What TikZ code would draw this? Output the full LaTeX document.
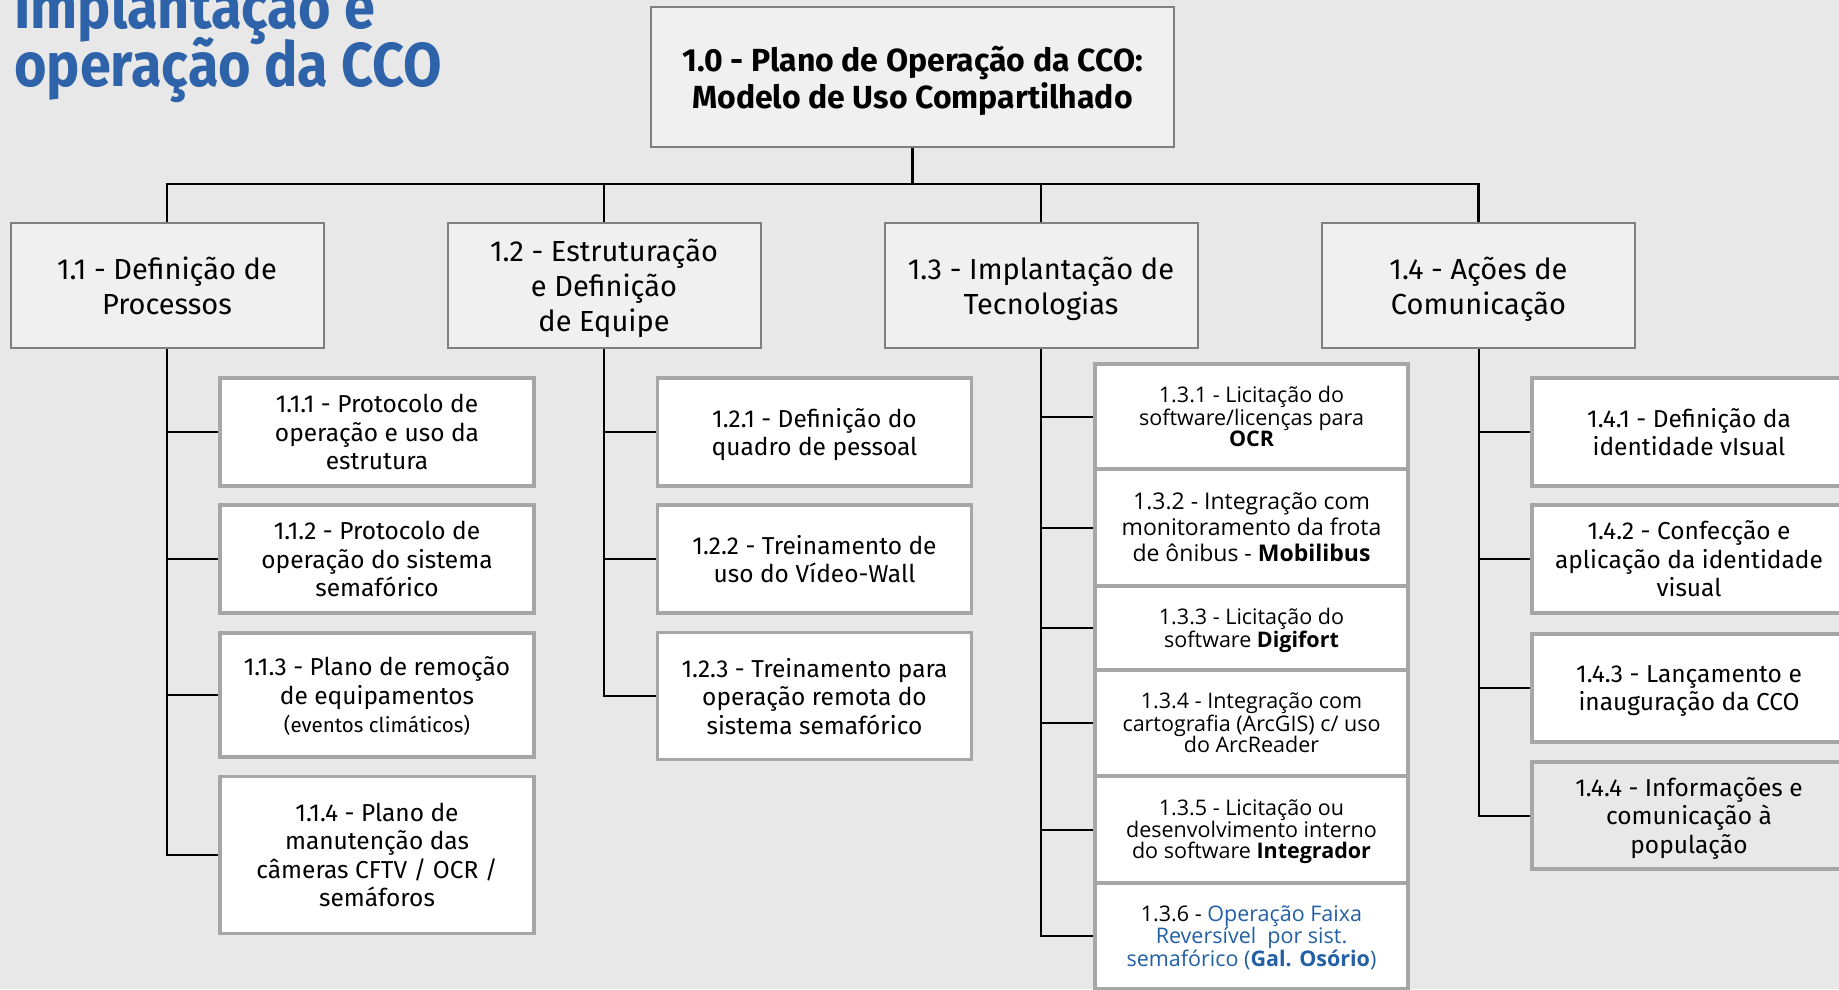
\documentclass[tikz,border=0pt]{standalone}
\usepackage{fontspec}
\setmainfont{Fira Sans}
\newfontfamily\opensans{Open Sans}
\newfontfamily\titulo[FakeStretch=0.9]{Fira Sans}
\definecolor{fundo}{HTML}{E8E8E8}
\definecolor{caixa}{HTML}{F0F0F0}
\definecolor{borda}{HTML}{7F7F7F}
\definecolor{bordaclara}{HTML}{A6A6A6}
\definecolor{azultitulo}{HTML}{2E63AA}
\definecolor{azultexto}{HTML}{2260A3}
\tikzset{
  topo/.style={draw=borda, fill=caixa, line width=2pt, minimum width=523pt, minimum height=140pt,
    align=center, inner sep=0pt, text depth=0pt, font=\bfseries\fontsize{32}{37}\selectfont},
  fase/.style={draw=borda, fill=caixa, line width=2pt, minimum width=313pt, minimum height=125pt,
    align=center, inner sep=0pt, text depth=0pt, font=\fontsize{29}{35}\selectfont},
  tarefa/.style={draw=bordaclara, fill=white, line width=3.5pt, minimum width=314pt,
    align=center, inner sep=0pt, text depth=0pt, font=\fontsize{24.5}{28.5}\selectfont},
  tec/.style={tarefa, minimum width=313pt, font=\opensans\fontsize{21.5}{21.5}\selectfont},
  liga/.style={line width=2pt}
}
\begin{document}
\begin{tikzpicture}[x=1pt, y=-1pt]
    \useasboundingbox (0,0) rectangle (1839,989);
    \clip (0,0) rectangle (1839,989);
    \fill[fundo] (0,0) rectangle (1839,989);

    \node (tit1) at (14,28)[anchor=base west, text=azultitulo, inner sep=0pt, font=\titulo\bfseries\fontsize{62}{58}\selectfont]{Implantação e};
    \node (tit2) at (14,86)[anchor=base west, text=azultitulo, inner sep=0pt, font=\titulo\bfseries\fontsize{62}{58}\selectfont]{operação da CCO};

    \node (p10) at (912.5,77)[topo]{1.0 - Plano de Operação da CCO:\\Modelo de Uso Compartilhado};

    \node (p11) at (167,285.5)[fase]{1.1 - Definição de\\Processos};
    \node (p12) at (604,285.5)[fase]{1.2 - Estruturação\\e Definição\\de Equipe};
    \node (p13) at (1041,285.5)[fase]{1.3 - Implantação de\\Tecnologias};
    \node (p14) at (1478.5,285.5)[fase]{1.4 - Ações de\\Comunicação};

    \coordinate (bus) at (912.5,184);
    \draw[line width=2.2pt] (p10.south) -- (bus);
\foreach \f in {11,12,13,14}
{
    \draw[line width=2.2pt] (p\f.north) -- (p\f.north |- bus) -- (bus);
}

    \node (p111) at (377,432)[tarefa, minimum height=108pt]{1.1.1 - Protocolo de\\operação e uso da\\estrutura};
    \node (p112) at (377,559)[tarefa, minimum height=108pt]{1.1.2 - Protocolo de\\operação do sistema\\semafórico};
    \node (p113) at (377,695)[tarefa, minimum height=124pt]{1.1.3 - Plano de remoção\\de equipamentos\\{\fontsize{20.5}{27}\selectfont(eventos climáticos)}};
    \node (p114) at (377,855)[tarefa, minimum height=157pt]{1.1.4 - Plano de\\manutenção das\\câmeras CFTV / OCR /\\semáforos};

    \node (p121) at (814.5,432)[tarefa, minimum height=108pt]{1.2.1 - Definição do\\quadro de pessoal};
    \node (p122) at (814.5,559)[tarefa, minimum height=108pt]{1.2.2 - Treinamento de\\uso do Vídeo-Wall};
    \node (p123) at (814.5,696)[tarefa, minimum height=127pt]{1.2.3 - Treinamento para\\operação remota do\\sistema semafórico};

    \node (p131) at (1251.5,416.5)[tec, minimum height=105pt]{1.3.1 - Licitação do\\software/licenças para\\\textbf{OCR}};
    \node (p132) at (1251.5,527.5)[tec, minimum height=117pt, font=\opensans\fontsize{23}{26}\selectfont]{1.3.2 - Integração com\\monitoramento da frota\\de ônibus - \textbf{Mobilibus}};
    \node (p133) at (1251.5,628)[tec, minimum height=84pt]{1.3.3 - Licitação do\\software \textbf{Digifort}};
    \node (p134) at (1251.5,723)[tec, minimum height=106pt]{1.3.4 - Integração com\\cartografia (ArcGIS) c/ uso\\do ArcReader};
    \node (p135) at (1251.5,829.5)[tec, minimum height=107pt]{1.3.5 - Licitação ou\\desenvolvimento interno\\do software \textbf{Integrador}};
    \node (p136) at (1251.5,936)[tec, minimum height=106pt]{1.3.6 - \textcolor{azultexto}{Operação Faixa}\\\textcolor{azultexto}{Reversível\ \ por sist.}\\\textcolor{azultexto}{semafórico (\textbf{Gal. Osório})}};

    \node (p141) at (1689,432)[tarefa, minimum height=108pt]{1.4.1 - Definição da\\identidade vIsual};
    \node (p142) at (1689,559)[tarefa, minimum height=108pt]{1.4.2 - Confecção e\\aplicação da identidade\\visual};
    \node (p143) at (1689,688)[tarefa, minimum height=108pt]{1.4.3 - Lançamento e\\inauguração da CCO};
    \node (p144) at (1689,815.5)[tarefa, minimum height=107pt, fill=fundo]{1.4.4 - Informações e\\comunicação à\\população};

\foreach \c in {111,112,113,114}
{
    \draw[liga] (p11.south) |- (p\c.west);
}
\foreach \c in {121,122,123}
{
    \draw[liga] (p12.south) |- (p\c.west);
}
\foreach \c in {131,132,133,134,135,136}
{
    \draw[liga] (p13.south) |- (p\c.west);
}
\foreach \c in {141,142,143,144}
{
    \draw[liga] (p14.south) |- (p\c.west);
}

\end{tikzpicture}
\end{document}
